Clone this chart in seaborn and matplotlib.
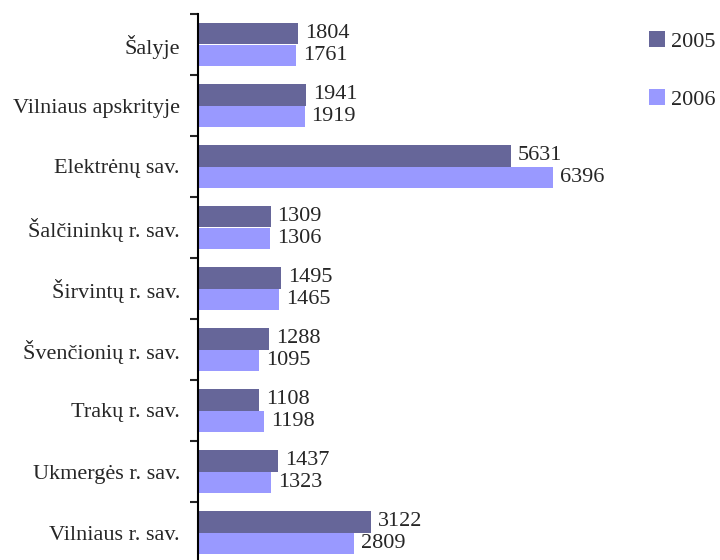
import pandas as pd
import matplotlib.pyplot as plt
import seaborn as sns

# Chart data
regions = [
    "Šalyje",
    "Vilniaus apskrityje",
    "Elektrėnų sav.",
    "Šalčininkų r. sav.",
    "Širvintų r. sav.",
    "Švenčionių r. sav.",
    "Trakų r. sav.",
    "Ukmergės r. sav.",
    "Vilniaus r. sav.",
]
values_2005 = [1804, 1941, 5631, 1309, 1495, 1288, 1108, 1437, 3122]
values_2006 = [1761, 1919, 6396, 1306, 1465, 1095, 1198, 1323, 2809]
years = ["2005", "2006"]
colors = ["#666699", "#9999FF"]

df = pd.DataFrame(
    {
        "region": regions * 2,
        "value": values_2005 + values_2006,
        "year": [years[0]] * len(regions) + [years[1]] * len(regions),
    }
)

sns.set_style("white")
plt.rcParams["font.family"] = ["Liberation Serif", "DejaVu Serif"]
plt.rcParams["font.size"] = 16

fig = plt.figure(figsize=(7.2, 5.6), dpi=100)
ax = fig.add_axes([198 / 720, -3 / 560, 444 / 720, 549 / 560])

sns.barplot(
    data=df,
    x="value",
    y="region",
    hue="year",
    order=regions,
    hue_order=years,
    palette=colors,
    orient="h",
    width=0.72,
    saturation=1,
    linewidth=0,
    ax=ax,
)

for container in ax.containers:
    ax.bar_label(container, fmt="%d", padding=5, fontsize=16)

ax.set_xlim(0, 8000)
ax.set_ylim(len(regions) - 0.5, -0.5)
ax.set_xlabel("")
ax.set_ylabel("")
ax.xaxis.set_visible(False)

# category labels on minor ticks, tick marks at category boundaries
ax.set_yticks([i + 0.5 for i in range(-1, len(regions))])
ax.set_yticklabels([])
ax.set_yticks(range(len(regions)), minor=True)
ax.set_yticklabels(regions, minor=True, fontsize=16)
ax.tick_params(axis="y", which="major", length=6, width=1.5, direction="out", left=True)
ax.tick_params(axis="y", which="minor", length=0, pad=13)

for side in ["top", "right", "bottom"]:
    ax.spines[side].set_visible(False)
ax.spines["left"].set_linewidth(1.5)
ax.spines["left"].set_color("black")

handles, labels = ax.get_legend_handles_labels()
ax.legend_.remove()
fig.legend(
    handles,
    labels,
    loc="upper left",
    bbox_to_anchor=(649 / 720, 1 - 31 / 560),
    frameon=False,
    handlelength=0.7,
    handleheight=0.7,
    handletextpad=0.3,
    labelspacing=1.7,
    borderpad=0,
    borderaxespad=0,
    fontsize=16,
)

fig.savefig("out.png", dpi=100)
